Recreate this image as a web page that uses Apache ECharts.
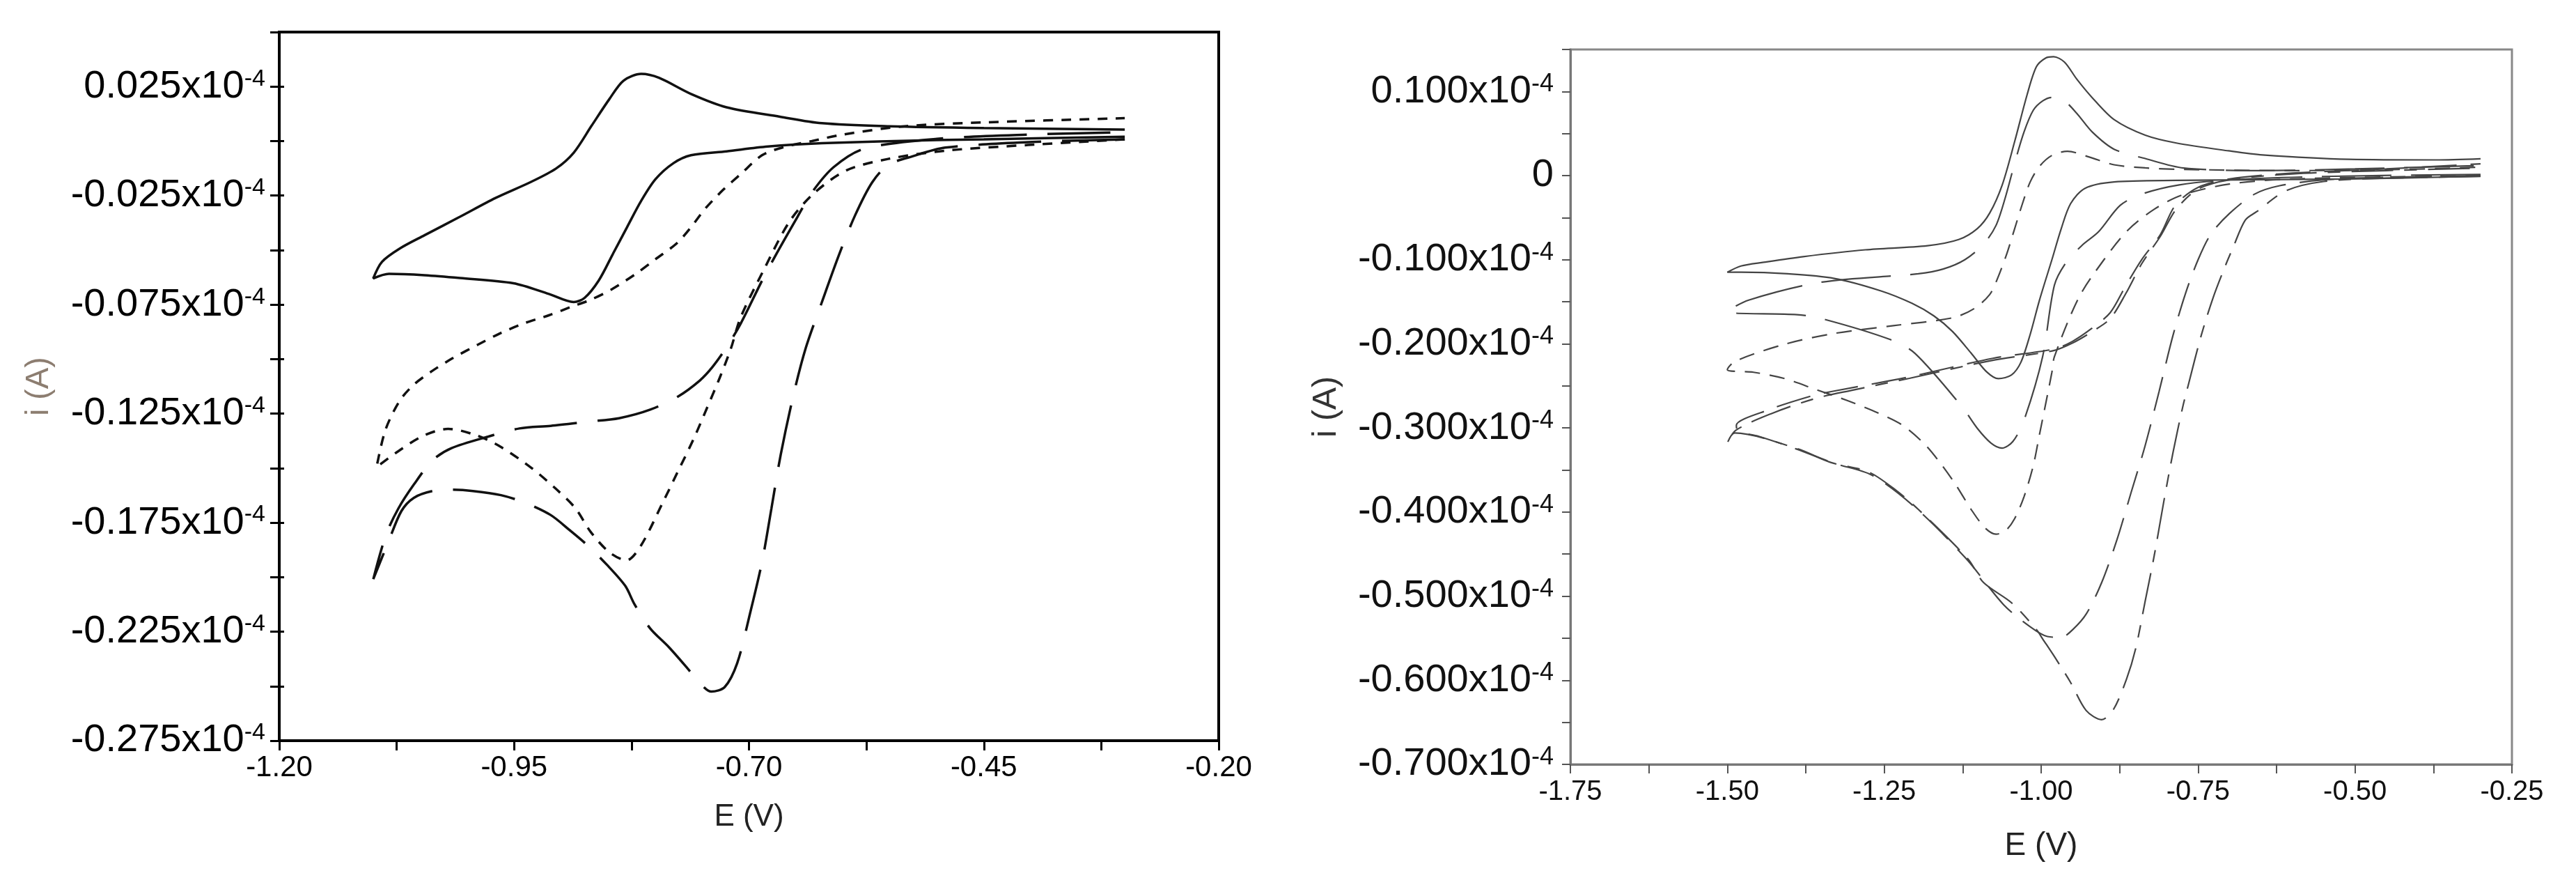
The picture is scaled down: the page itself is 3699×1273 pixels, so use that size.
<!DOCTYPE html>
<html>
<head>
<meta charset="utf-8">
<script src="https://cdn.jsdelivr.net/npm/echarts@6/dist/echarts.min.js"></script>
<style>
  html, body { margin: 0; padding: 0; background: #fff; }
  #chart { width: 3699px; height: 1273px; }
</style>
</head>
<body>
<div id="chart"></div>
<script>
// currents in units of 1e-4 A, potentials in V
const leftXLabels = [-1.20, -0.95, -0.70, -0.45, -0.20];
const leftYLabels = [0.025, -0.025, -0.075, -0.125, -0.175, -0.225, -0.275];
const rightXLabels = [-1.75, -1.50, -1.25, -1.00, -0.75, -0.50, -0.25];
const rightYLabels = [0.1, 0, -0.1, -0.2, -0.3, -0.4, -0.5, -0.6, -0.7];

// left panel
const leftSolid = [
  [-0.30, 0.0020], [-0.45, 0.0008], [-0.50, 0.0005], [-0.6225, -0.0010], [-0.68, -0.0025],
  [-0.7239, -0.0047], [-0.7617, -0.0065], [-0.7806, -0.0102], [-0.7995, -0.0175], [-0.8147, -0.0274],
  [-0.8298, -0.0395], [-0.8449, -0.0518], [-0.8600, -0.0640], [-0.8752, -0.0720], [-0.8865, -0.0738],
  [-0.9130, -0.0701], [-0.9508, -0.0652], [-1.0076, -0.0628], [-1.0454, -0.0615], [-1.0832, -0.0609],
  [-1.1000, -0.0630],
  [-1.0907, -0.0554], [-1.0718, -0.0493], [-1.0454, -0.0432], [-1.0076, -0.0347], [-0.9698, -0.0261],
  [-0.9319, -0.0187], [-0.9054, -0.0126], [-0.8865, -0.0053], [-0.8676, 0.0070], [-0.8487, 0.0192],
  [-0.8336, 0.0277], [-0.8147, 0.0308], [-0.7958, 0.0290], [-0.7617, 0.0216], [-0.7239, 0.0155],
  [-0.6672, 0.0112], [-0.6225, 0.0082], [-0.55, 0.0068], [-0.45, 0.0060], [-0.30, 0.0053]
];
const leftShortDash = [
  [-0.30, 0.0008], [-0.403, -0.0018], [-0.491, -0.0044], [-0.552, -0.0082], [-0.596, -0.0134],
  [-0.631, -0.024], [-0.657, -0.037], [-0.683, -0.058], [-0.709, -0.081], [-0.7192, -0.0951],
  [-0.7311, -0.1085], [-0.7443, -0.1220], [-0.7589, -0.1366], [-0.7754, -0.1513], [-0.7920, -0.1660],
  [-0.8151, -0.1856], [-0.8304, -0.1923], [-0.8483, -0.1887], [-0.8681, -0.1795], [-0.8846, -0.1685],
  [-0.9045, -0.1599], [-0.9310, -0.1501], [-0.9640, -0.1403], [-0.9905, -0.1349], [-1.0203, -0.1320],
  [-1.0468, -0.1352], [-1.0732, -0.1422], [-1.0964, -0.1495],
  [-1.0870, -0.1325], [-1.0718, -0.1191], [-1.0567, -0.1117], [-1.0378, -0.1056], [-1.0151, -0.0995],
  [-0.9887, -0.0934], [-0.9660, -0.0884], [-0.9395, -0.0836], [-0.9130, -0.0799], [-0.8903, -0.0762],
  [-0.8676, -0.0726], [-0.8449, -0.0677], [-0.8185, -0.0603], [-0.7996, -0.0542], [-0.7769, -0.0469],
  [-0.7617, -0.0395], [-0.7466, -0.0310], [-0.7276, -0.0224], [-0.7087, -0.0151], [-0.6861, -0.0065],
  [-0.6634, -0.0028], [-0.6331, 0.0000], [-0.60, 0.0030], [-0.5345, 0.0068], [-0.447, 0.0086],
  [-0.30, 0.0105]
];
const leftLongDash = [
  [-0.30, 0.0008], [-0.403, -0.0005], [-0.491, -0.003], [-0.526, -0.007], [-0.552, -0.011],
  [-0.569, -0.019], [-0.587, -0.034], [-0.604, -0.052], [-0.6225, -0.0740], [-0.6397, -0.0951],
  [-0.6530, -0.1171], [-0.6663, -0.1440], [-0.6761, -0.1685], [-0.6861, -0.1930], [-0.6993, -0.2174],
  [-0.7125, -0.2394], [-0.7258, -0.2504], [-0.7400, -0.2525], [-0.7523, -0.2486], [-0.7655, -0.2418],
  [-0.7853, -0.2321], [-0.8052, -0.2235], [-0.8218, -0.2125], [-0.8317, -0.2040], [-0.8515, -0.1942],
  [-0.8714, -0.1856], [-0.8913, -0.1783], [-0.9111, -0.1715], [-0.9376, -0.1660], [-0.9640, -0.1624],
  [-0.9938, -0.1605], [-1.0170, -0.1599], [-1.0368, -0.1605], [-1.0567, -0.1636], [-1.0700, -0.1697],
  [-1.0832, -0.1831], [-1.0999, -0.2009],
  [-1.0865, -0.1807], [-1.0732, -0.1685], [-1.0567, -0.1575], [-1.0368, -0.1464], [-1.0170, -0.1409],
  [-0.9773, -0.1355], [-0.9443, -0.1318], [-0.9111, -0.1306], [-0.8714, -0.1287], [-0.8383, -0.1271],
  [-0.8052, -0.1232], [-0.7754, -0.1171], [-0.7523, -0.1098], [-0.7390, -0.1037], [-0.7239, -0.0946],
  [-0.7087, -0.0836], [-0.6861, -0.0640], [-0.6709, -0.0518], [-0.6483, -0.0347], [-0.6331, -0.0236],
  [-0.61, -0.012], [-0.578, -0.0036], [-0.50, 0.0010], [-0.40, 0.0030], [-0.30, 0.0040]
];

// right panel
const rightSolid = [
  [-0.30, -0.0006], [-0.51, -0.0040], [-0.785, -0.0057], [-0.884, -0.0075], [-0.93, -0.0150],
  [-0.9531, -0.0333], [-0.9680, -0.0630], [-0.9829, -0.1000], [-1.0027, -0.1481], [-1.0175, -0.1888],
  [-1.0324, -0.2221], [-1.0473, -0.2370], [-1.0681, -0.2414], [-1.0869, -0.2333], [-1.1116, -0.2110],
  [-1.1414, -0.1852], [-1.1711, -0.1667], [-1.2058, -0.1518], [-1.2553, -0.1370], [-1.3296, -0.1222],
  [-1.4039, -0.1167], [-1.4782, -0.1148], [-1.50, -0.1149],
  [-1.4782, -0.1074], [-1.4419, -0.1030], [-1.3791, -0.0963], [-1.2800, -0.0882], [-1.1809, -0.0833],
  [-1.1314, -0.0760], [-1.1017, -0.0630], [-1.0819, -0.0444], [-1.0621, -0.0112], [-1.0422, 0.0406],
  [-1.0224, 0.0962], [-1.0076, 0.1295], [-0.9927, 0.1399], [-0.9803, 0.1414], [-0.9630, 0.1351],
  [-0.9432, 0.1147], [-0.9184, 0.0925], [-0.8838, 0.0666], [-0.8342, 0.0481], [-0.7847, 0.0388],
  [-0.7015, 0.0295], [-0.6473, 0.0246], [-0.5094, 0.0194], [-0.3714, 0.0187], [-0.30, 0.0201]
];
const rightLongDash1 = [
  [-0.30, 0.0015], [-0.55, -0.001], [-0.70, -0.005], [-0.78, -0.011], [-0.84, -0.022],
  [-0.874, -0.0353], [-0.9085, -0.0667], [-0.935, -0.083], [-0.96, -0.103], [-0.9789, -0.1303],
  [-0.9977, -0.2153], [-1.0274, -0.2911], [-1.045, -0.316], [-1.0624, -0.3240], [-1.08, -0.318],
  [-1.1017, -0.3005], [-1.1264, -0.2745], [-1.2008, -0.2115], [-1.2404, -0.1949], [-1.3495, -0.1700],
  [-1.3890, -0.1653], [-1.50, -0.1617],
  [-1.466, -0.1480], [-1.3495, -0.1266], [-1.1958, -0.1167], [-1.1562, -0.1111], [-1.1216, -0.1000],
  [-1.0918, -0.0815], [-1.0720, -0.0593], [-1.0571, -0.0260], [-1.0422, 0.0148], [-1.0274, 0.0517],
  [-1.0126, 0.0777], [-0.9977, 0.0888], [-0.9829, 0.0930], [-0.9630, 0.0888], [-0.9432, 0.0740],
  [-0.9184, 0.0517], [-0.8838, 0.0314], [-0.8342, 0.0203], [-0.7730, 0.0091], [-0.65, 0.0060],
  [-0.50, 0.0080], [-0.30, 0.0120]
];
const rightShortDash = [
  [-0.30, 0.0000], [-0.60, -0.004], [-0.70, -0.010], [-0.775, -0.023], [-0.82, -0.040],
  [-0.862, -0.065], [-0.90, -0.100], [-0.94, -0.145], [-0.9789, -0.2153], [-0.9829, -0.2338],
  [-0.9927, -0.2709], [-1.0027, -0.3079], [-1.0126, -0.3449], [-1.0274, -0.3819], [-1.0422, -0.4078],
  [-1.0571, -0.4226], [-1.0720, -0.4263], [-1.0894, -0.4189], [-1.1116, -0.3968], [-1.1364, -0.3671],
  [-1.1612, -0.3412], [-1.1860, -0.3190], [-1.2207, -0.2968], [-1.2603, -0.2820], [-1.3098, -0.2672],
  [-1.3593, -0.2542], [-1.4088, -0.2413], [-1.4583, -0.2338], [-1.50, -0.2309],
  [-1.4881, -0.2209], [-1.4088, -0.2005], [-1.3296, -0.1876], [-1.2354, -0.1784], [-1.1413, -0.1691],
  [-1.1066, -0.1580], [-1.0819, -0.1413], [-1.0695, -0.1222], [-1.0546, -0.0926], [-1.0422, -0.0630],
  [-1.0298, -0.0333], [-1.0175, -0.0075], [-1.0027, 0.0110], [-0.9829, 0.0240], [-0.9581, 0.0289],
  [-0.9234, 0.0221], [-0.8838, 0.0129], [-0.8342, 0.0092], [-0.7748, 0.0074], [-0.60, 0.0060],
  [-0.45, 0.0070], [-0.30, 0.0100]
];
const rightLongDash2 = [
  [-0.30, 0.0000], [-0.45, -0.002], [-0.55, -0.005], [-0.62, -0.012], [-0.66, -0.022],
  [-0.70, -0.045], [-0.73, -0.070], [-0.75, -0.100], [-0.77, -0.140], [-0.79, -0.190],
  [-0.8121, -0.2565], [-0.8344, -0.3212], [-0.8567, -0.3767], [-0.8790, -0.4323], [-0.9037, -0.4840],
  [-0.928, -0.521], [-0.95, -0.540], [-0.968, -0.549], [-0.99, -0.548], [-1.02, -0.535],
  [-1.06, -0.510], [-1.12, -0.455], [-1.20, -0.395], [-1.27, -0.356], [-1.33, -0.342],
  [-1.39, -0.325], [-1.45, -0.310], [-1.483, -0.304],
  [-1.4856, -0.2968], [-1.4336, -0.2783], [-1.3642, -0.2616], [-1.3345, -0.2568], [-1.2108, -0.2394],
  [-1.0770, -0.2172], [-0.9789, -0.2061], [-0.95, -0.197], [-0.92, -0.182], [-0.89, -0.163],
  [-0.866, -0.132], [-0.84, -0.100], [-0.81, -0.070], [-0.786, -0.035], [-0.75, -0.014],
  [-0.70, -0.004], [-0.60, 0.003], [-0.45, 0.008], [-0.30, 0.014]
];
const rightDashDot = [
  [-0.30, -0.001], [-0.45, -0.003], [-0.55, -0.007], [-0.61, -0.018], [-0.657, -0.043],
  [-0.675, -0.053], [-0.694, -0.085], [-0.707, -0.108], [-0.726, -0.145], [-0.745, -0.190],
  [-0.7650, -0.2472], [-0.7750, -0.2768], [-0.7898, -0.3286], [-0.8047, -0.3878], [-0.8196, -0.4507],
  [-0.8344, -0.5063], [-0.8493, -0.5619], [-0.8641, -0.5988], [-0.885, -0.635], [-0.9037, -0.6468],
  [-0.9284, -0.6359], [-0.9531, -0.6026], [-0.9779, -0.5730], [-0.9977, -0.5507], [-1.0076, -0.5396],
  [-1.0473, -0.5078], [-1.0918, -0.4838], [-1.1166, -0.4559], [-1.1958, -0.3968], [-1.2306, -0.3745],
  [-1.2751, -0.3523], [-1.3345, -0.3412], [-1.3890, -0.3245], [-1.4881, -0.3060], [-1.50, -0.3180],
  [-1.487, -0.3030], [-1.43, -0.283], [-1.36, -0.265], [-1.30, -0.255], [-1.21, -0.241],
  [-1.08, -0.220], [-0.98, -0.208], [-0.95, -0.199], [-0.92, -0.186], [-0.89, -0.170],
  [-0.865, -0.140], [-0.84, -0.105], [-0.81, -0.072], [-0.785, -0.040], [-0.75, -0.016],
  [-0.70, -0.005], [-0.60, 0.002], [-0.45, 0.006], [-0.30, 0.009]
];

const FONT = 'Liberation Sans, Arial, sans-serif';
const isLabel = (list, v) => list.some(t => Math.abs(t - v) < 1e-6);

var myChart = echarts.init(document.getElementById('chart'), null, { renderer: 'canvas' });

const line = (name, data, idx, color, width, dash) => ({
  name: name,
  type: 'line',
  xAxisIndex: idx,
  yAxisIndex: idx,
  data: data,
  showSymbol: false,
  symbol: 'none',
  smooth: 0.3,
  animation: false,
  lineStyle: { color: color, width: width, type: dash }
});

option = {
  backgroundColor: '#fff',
  animation: false,
  grid: [
    { left: 401, top: 46, width: 1349, height: 1017, show: true, borderColor: '#000', borderWidth: 4, backgroundColor: 'transparent' },
    { left: 2255, top: 71, width: 1352, height: 1026, show: true, borderColor: '#888', borderWidth: 3, backgroundColor: 'transparent' }
  ],
  xAxis: [
    {
      gridIndex: 0, type: 'value', min: -1.2, max: -0.2, interval: 0.125,
      axisLine: { show: true, onZero: false, lineStyle: { color: '#000', width: 4 } },
      axisTick: { show: true, length: 14, lineStyle: { color: '#000', width: 3 } },
      splitLine: { show: false },
      axisLabel: {
        color: '#000', fontSize: 42, fontFamily: FONT, margin: 18,
        formatter: v => isLabel(leftXLabels, v) ? v.toFixed(2) : ''
      },
      name: 'E (V)', nameLocation: 'middle', nameGap: 88, nameMoveOverlap: false,
      nameTextStyle: { color: '#222', fontSize: 44, fontFamily: FONT }
    },
    {
      gridIndex: 1, type: 'value', min: -1.75, max: -0.25, interval: 0.125,
      axisLine: { show: true, onZero: false, lineStyle: { color: '#777', width: 3 } },
      axisTick: { show: true, length: 13, lineStyle: { color: '#555', width: 2 } },
      splitLine: { show: false },
      axisLabel: {
        color: '#111', fontSize: 40, fontFamily: FONT, margin: 20,
        formatter: v => isLabel(rightXLabels, v) ? v.toFixed(2) : ''
      },
      name: 'E (V)', nameLocation: 'middle', nameGap: 94, nameMoveOverlap: false,
      nameTextStyle: { color: '#222', fontSize: 46, fontFamily: FONT }
    }
  ],
  yAxis: [
    {
      gridIndex: 0, type: 'value', position: 'left', min: -0.275, max: 0.05, interval: 0.025,
      axisLine: { show: true, onZero: false, lineStyle: { color: '#000', width: 4 } },
      axisTick: { show: true, length: 13, lineStyle: { color: '#000', width: 3 } },
      splitLine: { show: false },
      axisLabel: {
        margin: 20, fontFamily: FONT,
        formatter: v => isLabel(leftYLabels, v) ? '{m|' + v.toFixed(3) + 'x10}{s|-4}' : '',
        rich: {
          m: { fontSize: 56, color: '#000', fontFamily: FONT },
          s: { fontSize: 34, color: '#000', fontFamily: FONT, verticalAlign: 'top' }
        }
      },
      name: 'i (A)', nameLocation: 'middle', nameGap: 322, nameRotate: 90, nameMoveOverlap: false,
      nameTextStyle: { color: '#8c7d70', fontSize: 46, fontFamily: FONT }
    },
    {
      gridIndex: 1, type: 'value', position: 'left', min: -0.7, max: 0.15, interval: 0.05,
      axisLine: { show: true, onZero: false, lineStyle: { color: '#777', width: 3 } },
      axisTick: { show: true, length: 12, lineStyle: { color: '#555', width: 2 } },
      splitLine: { show: false },
      axisLabel: {
        margin: 24, fontFamily: FONT,
        formatter: v => {
          if (!isLabel(rightYLabels, v)) return '';
          if (Math.abs(v) < 1e-9) return '{m|0}';
          return '{m|' + v.toFixed(3) + 'x10}{s|-4}';
        },
        rich: {
          m: { fontSize: 56, color: '#111', fontFamily: FONT },
          s: { fontSize: 36, color: '#111', fontFamily: FONT, verticalAlign: 'top' }
        }
      },
      name: 'i (A)', nameLocation: 'middle', nameGap: 326, nameRotate: 90, nameMoveOverlap: false,
      nameTextStyle: { color: '#333', fontSize: 48, fontFamily: FONT }
    },
    {
      // short inner half of the left panel's ticks, which cross the axis line
      gridIndex: 0, type: 'value', position: 'left', offset: 0, min: -0.275, max: 0.05, interval: 0.025,
      axisLine: { show: false, onZero: false },
      axisTick: { show: true, inside: true, length: 7, lineStyle: { color: '#000', width: 3 } },
      splitLine: { show: false },
      axisLabel: { show: false }
    }
  ],
  series: [
    line('solid', leftSolid, 0, '#111', 3.5, 'solid'),
    line('short dash', leftShortDash, 0, '#111', 3.5, [14, 12]),
    line('long dash', leftLongDash, 0, '#111', 3.5, [90, 30]),
    line('solid', rightSolid, 1, '#444', 2.2, 'solid'),
    line('long dash 1', rightLongDash1, 1, '#444', 2.2, [100, 28]),
    line('short dash', rightShortDash, 1, '#444', 2.2, [22, 14]),
    line('long dash 2', rightLongDash2, 1, '#444', 2.2, [50, 20]),
    line('dash dot', rightDashDot, 1, '#444', 2.2, [60, 16, 18, 16])
  ]
};

myChart.setOption(option);
</script>
</body>
</html>
